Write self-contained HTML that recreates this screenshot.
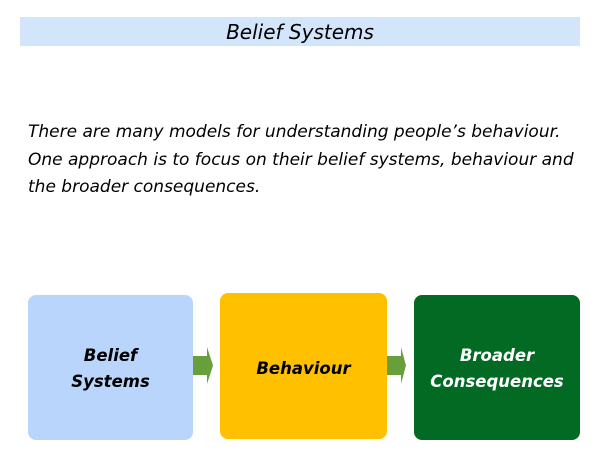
<!DOCTYPE html>
<html><head><meta charset="utf-8"><style>
body{margin:0;width:600px;height:450px;background:#fff;position:relative;overflow:hidden;font-family:"DejaVu Sans","Liberation Sans",sans-serif;}
.title{position:absolute;left:20px;top:17px;width:560px;height:29px;background:#d3e5fb;text-align:center;font-style:italic;font-size:20px;line-height:30px;color:#000;}
.body{position:absolute;left:28px;top:119px;font-style:italic;font-size:17px;line-height:27.5px;white-space:nowrap;color:#000;}
.box{position:absolute;box-sizing:border-box;border-radius:8px;display:flex;align-items:center;justify-content:center;text-align:center;font-style:italic;font-weight:bold;font-size:16.5px;line-height:26px;}
</style></head><body>
<div class="title">Belief Systems</div>
<div class="body">There are many models for understanding people’s behaviour.<br>One approach is to focus on their belief systems, behaviour and<br>the broader consequences.</div>
<div class="box" style="left:28px;top:295px;width:165px;height:145px;padding-top:2px;background:#b9d5fb;color:#000;">Belief<br>Systems</div>
<div class="box" style="left:220px;top:293px;width:167px;height:146px;padding-top:6px;background:#ffc000;color:#000;">Behaviour</div>
<div class="box" style="left:414px;top:295px;width:166px;height:145px;padding-top:2px;background:#036a23;color:#fff;">Broader<br>Consequences</div>
<svg style="position:absolute;left:0;top:0" width="600" height="450">
<polygon points="193,356 207,356 207,347 213,365.5 207,384 207,375 193,375" fill="#67a03a"/>
<polygon points="387,356 401,356 401,347 406,365.5 401,384 401,375 387,375" fill="#67a03a"/>
</svg>
</body></html>
